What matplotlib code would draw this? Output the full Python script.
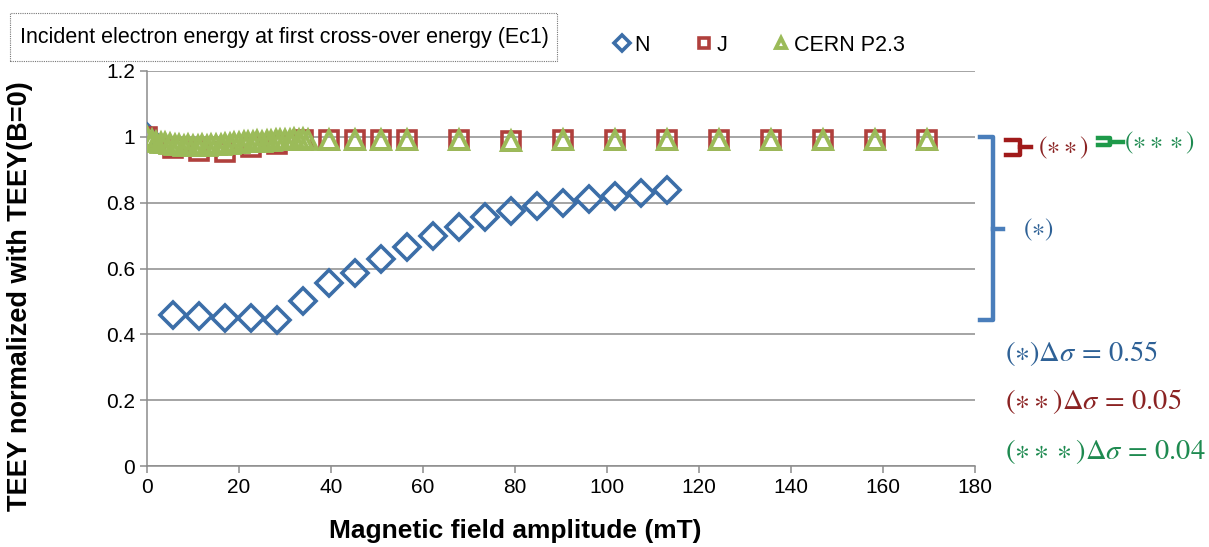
import numpy as np
import matplotlib
matplotlib.use('Agg')
from matplotlib import pyplot as plt
from matplotlib.lines import Line2D
from matplotlib.patches import Rectangle
from matplotlib.ticker import FuncFormatter

plt.rcParams['font.family'] = ['Liberation Sans', 'DejaVu Sans']
plt.rcParams['mathtext.fontset'] = 'stix'

# sample N (diamonds)
n_x = [0, 5.65, 11.3, 16.95, 22.6, 28.25, 33.9, 39.55, 45.2, 50.85, 56.5,
       62.15, 67.8, 73.45, 79.1, 84.75, 90.4, 96.05, 101.7, 107.35, 113.0]
n_y = [1.0, 0.46, 0.455, 0.45, 0.45, 0.445, 0.50, 0.555, 0.585, 0.63, 0.665,
       0.70, 0.725, 0.755, 0.775, 0.79, 0.80, 0.81, 0.82, 0.83, 0.84]

# sample J (squares)
j_x = [0, 5.65, 11.3, 16.95, 22.6, 28.25, 33.9, 39.55, 45.2, 50.85, 56.5,
       67.8, 79.1, 90.4, 101.7, 113.0, 124.3, 135.6, 146.9, 158.2, 169.5]
j_y = [1.0, 0.965, 0.958, 0.955, 0.97, 0.978, 0.99, 0.99, 0.99, 0.99, 0.99,
       0.99, 0.988, 0.99, 0.99, 0.99, 0.99, 0.99, 0.99, 0.99, 0.99]

# sample CERN P2.3 (triangles)
c_x = [0, 1, 2, 3, 4, 5, 6, 7, 8, 9, 10, 11, 12, 13, 14, 15, 16, 17, 18,
       19, 20, 21, 22, 23, 24, 25, 26, 27, 28, 29, 30, 31, 32, 33, 34, 35,
       39.55, 45.2, 50.85, 56.5, 67.8, 79.1, 90.4, 101.7, 113.0, 124.3,
       135.6, 146.9, 158.2, 169.5]
c_y = [1.0, 0.99, 0.985, 0.982, 0.98, 0.978, 0.976, 0.975, 0.973, 0.975,
       0.972, 0.972, 0.974, 0.972, 0.975, 0.976, 0.975, 0.977, 0.979, 0.98,
       0.98, 0.983, 0.983, 0.985, 0.986, 0.985, 0.988, 0.987, 0.99, 0.99,
       0.991, 0.99, 0.992, 0.99, 0.992, 0.99,
       0.99, 0.99, 0.99, 0.99, 0.99, 0.988, 0.99, 0.99, 0.99, 0.99,
       0.99, 0.99, 0.99, 0.99]

W, H = 1209, 547


def px(x, y):
    return x / W, 1 - y / H


fig = plt.figure(figsize=(W / 100, H / 100), dpi=100)
ax = fig.add_axes([147 / W, 1 - 466 / H, (975 - 147) / W, (466 - 71) / H])

ax.plot(n_x, n_y, linestyle='none', marker='D', ms=13, mfc='none',
        mec='#3c6ea8', mew=2.6, label='N', zorder=3)
ax.plot(j_x, j_y, linestyle='none', marker='s', ms=12.5, mfc='none',
        mec='#b0403d', mew=2.6, label='J', zorder=4)
ax.plot(c_x, c_y, linestyle='none', marker='^', ms=12.5, mfc='none',
        mec='#9bbb59', mew=2.8, label='CERN P2.3', zorder=5)

ax.set_xlim(0, 180)
ax.set_ylim(0, 1.2)
ax.set_xticks(np.arange(0, 181, 20))
ax.set_yticks(np.arange(0, 1.21, 0.2))
ax.yaxis.set_major_formatter(FuncFormatter(lambda v, p: ('%.1f' % v).rstrip('0').rstrip('.')))
ax.grid(axis='y', color='#8c8c8c', lw=1.1)
ax.set_axisbelow(True)
for s in ['top', 'right']:
    ax.spines[s].set_visible(False)
for s in ['left', 'bottom']:
    ax.spines[s].set_color('#8c8c8c')
    ax.spines[s].set_linewidth(1.1)
ax.tick_params(colors='#8c8c8c', labelcolor='black', labelsize=15,
               length=5, width=1.1)

ax.set_xlabel('Magnetic field amplitude (mT)', fontsize=19, fontweight='bold')
ax.xaxis.set_label_coords((515 - 147) / 828, -0.135)
ax.set_ylabel('TEEY normalized with TEEY(B=0)', fontsize=19.5, fontweight='bold')
ax.yaxis.set_label_coords((33 - 147) / 828, 1 - (296 - 71) / 395)

leg = ax.legend(loc='center', bbox_to_anchor=((758 - 147) / 828, 1 + (71 - 45) / 395),
                ncol=3, frameon=False, fontsize=15.5, handletextpad=0.1,
                handlelength=1.0, columnspacing=2.0, markerscale=0.6)

fig.add_artist(Rectangle(px(10, 61), 547 / W, 48 / H, transform=fig.transFigure,
                         fc='white', ec='#777777', ls=(0, (1, 1)), lw=0.8))
fig.text(*px(284, 38), 'Incident electron energy at first cross-over energy (Ec1)',
         fontsize=15.5, ha='center', va='center')

# braces on the right
blue = '#4a7ebb'
fig.add_artist(Line2D(*zip(px(980, 137), px(993, 137), px(993, 320), px(980, 320)),
                      color=blue, lw=3.2, solid_joinstyle='round'))
fig.add_artist(Line2D(*zip(px(993, 229), px(1003, 229)), color=blue, lw=3.2))
fig.text(*px(1038, 230), r'$(\ast)$', color='#2e6196', fontsize=18,
         ha='center', va='center')

red = '#a01a1a'
fig.add_artist(Line2D(*zip(px(1006, 140), px(1020, 140), px(1020, 155), px(1006, 155)),
                      color=red, lw=3.2))
fig.add_artist(Line2D(*zip(px(1020, 147), px(1031, 147)), color=red, lw=3.2))
fig.text(*px(1063, 148), r'$(\ast\ast)$', color='#8b2323', fontsize=18,
         ha='center', va='center')

green = '#1e9a4a'
fig.add_artist(Line2D(*zip(px(1098, 138), px(1110, 138), px(1110, 145), px(1098, 145)),
                      color=green, lw=3.2))
fig.add_artist(Line2D(*zip(px(1110, 142), px(1123, 142)), color=green, lw=3.2))
fig.text(*px(1160, 143), r'$(\ast\ast\ast)$', color='#1e8a50', fontsize=18,
         ha='center', va='center')

fig.text(*px(1005, 353), r'$(\ast)\Delta\sigma\,=\,0.55$', color='#2e6196',
         fontsize=20.5, ha='left', va='center')
fig.text(*px(1005, 402), r'$(\ast\ast)\Delta\sigma\,=\,0.05$', color='#8b2323',
         fontsize=20.5, ha='left', va='center')
fig.text(*px(1005, 452), r'$(\ast\ast\ast)\Delta\sigma\,=\,0.04$', color='#1e8a50',
         fontsize=20.5, ha='left', va='center')

fig.savefig('out.png', dpi=100, facecolor='white')
